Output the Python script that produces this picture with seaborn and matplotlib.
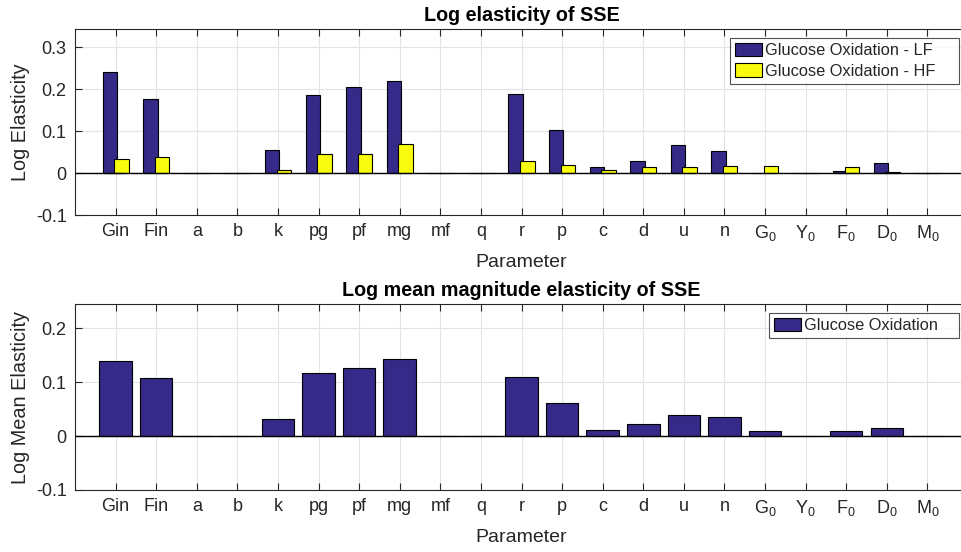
import matplotlib
matplotlib.use("Agg")
import matplotlib.pyplot as plt
import seaborn as sns
import pandas as pd

params = ["Gin", "Fin", "a", "b", "k", "pg", "pf", "mg", "mf", "q", "r", "p",
          "c", "d", "u", "n", "G0", "Y0", "F0", "D0", "M0"]

tick_labels = ["Gin", "Fin", "a", "b", "k", "pg", "pf", "mg", "mf", "q", "r", "p",
               "c", "d", "u", "n", r"$\mathregular{G_0}$", r"$\mathregular{Y_0}$",
               r"$\mathregular{F_0}$", r"$\mathregular{D_0}$", r"$\mathregular{M_0}$"]

lf_values = [0.241, 0.176, 0.001, 0.0005, 0.055, 0.185, 0.204, 0.218, 0.001, 0.001,
             0.187, 0.102, 0.0135, 0.0286, 0.066, 0.0517, 0.001, 0.0003, 0.004, 0.023, 0.001]
hf_values = [0.034, 0.039, 0.0005, 0.0003, 0.0063, 0.046, 0.046, 0.068, 0.0005, 0.0003,
             0.0286, 0.020, 0.007, 0.0135, 0.014, 0.0175, 0.016, 0.0003, 0.015, 0.003, 0.0003]
mean_values = [0.139, 0.108, 0.0007, 0.0003, 0.031, 0.1165, 0.126, 0.1437, 0.0007, 0.0007,
               0.109, 0.0607, 0.0105, 0.0217, 0.040, 0.035, 0.0087, 0.0003, 0.0099, 0.0143, 0.0005]

series_top = ["Glucose Oxidation - LF", "Glucose Oxidation - HF"]
series_bottom = "Glucose Oxidation"

BLUE = "#352A87"
YELLOW = "#F9FB0E"
AX_COL = "#262626"

sns.set_theme(style="white")
plt.rcParams["font.family"] = ["Liberation Sans", "DejaVu Sans"]
plt.rcParams["mathtext.fontset"] = "custom"
plt.rcParams["mathtext.rm"] = "Liberation Sans"

n = len(params)
df_top = pd.DataFrame({
    "Parameter": params * 2,
    "value": lf_values + hf_values,
    "series": [series_top[0]] * n + [series_top[1]] * n,
})
df_bot = pd.DataFrame({"Parameter": params, "value": mean_values,
                       "series": [series_bottom] * n})

W, H = 961, 552
L, R = 75, 968
fig = plt.figure(figsize=(9.61, 5.52), dpi=100)
ax1 = fig.add_axes([L / W, 1 - 215 / H, (R - L) / W, (215 - 29) / H])
ax2 = fig.add_axes([L / W, 1 - 490 / H, (R - L) / W, (490 - 304) / H])

sns.barplot(data=df_top, x="Parameter", y="value", hue="series", order=params,
            hue_order=series_top, palette=[BLUE, YELLOW], width=0.572, saturation=1,
            edgecolor="black", linewidth=0.8, ax=ax1, zorder=3)
for p in ax1.patches:
    c = p.get_x() + p.get_width() / 2
    p.set_width(0.355)
    p.set_x(c - 0.1775)

sns.barplot(data=df_bot, x="Parameter", y="value", hue="series", order=params,
            palette=[BLUE], width=0.8, saturation=1, edgecolor="black",
            linewidth=0.8, ax=ax2, zorder=3)

def style(ax, ylim, yticks, ylabel, title):
    ax.set_xlim(-1, 21)
    ax.set_ylim(*ylim)
    ax.set_yticks(yticks)
    ax.set_yticklabels(["0" if t == 0 else f"{t:g}" for t in yticks])
    ax.set_xticks(range(n))
    ax.set_xticklabels(tick_labels)
    ax.axhline(0, color="black", lw=1.0, zorder=4)
    ax.grid(True, color="#e3e3e3", lw=0.8, zorder=0)
    ax.set_axisbelow(True)
    for s in ax.spines.values():
        s.set_color(AX_COL)
        s.set_linewidth(0.8)
        s.set_visible(True)
    ax.tick_params(direction="in", length=5, width=0.8, color=AX_COL,
                   labelsize=13, labelcolor=AX_COL, top=True, right=True,
                   bottom=True, left=True, pad=6)
    ax.set_xlabel("Parameter", fontsize=14, color=AX_COL, labelpad=8)
    ax.set_ylabel(ylabel, fontsize=14.3, color=AX_COL, labelpad=4)
    ax.set_title(title, fontsize=14.2, fontweight="bold", color="black", pad=6)

style(ax1, (-0.1, 0.343), [-0.1, 0, 0.1, 0.2, 0.3], "Log Elasticity", "Log elasticity of SSE")
style(ax2, (-0.1, 0.245), [-0.1, 0, 0.1, 0.2], "Log Mean Elasticity",
      "Log mean magnitude elasticity of SSE")

for ax, x_left in ((ax1, 730), (ax2, 769)):
    x0 = (x_left - L) / (R - L)
    w = (959 - x_left) / (R - L)
    leg = ax.legend(loc="upper left", bbox_to_anchor=(x0, 0.952 - 0.5, w, 0.5),
                    mode="expand", fontsize=11.8, frameon=True, fancybox=False,
                    edgecolor=AX_COL, handlelength=1.65, handleheight=0.9,
                    handletextpad=0.2, borderpad=0.3, labelspacing=0.3,
                    borderaxespad=0.0)
    leg.get_frame().set_linewidth(0.8)
    leg.set_title(None)

fig.savefig("out.png", dpi=100)
